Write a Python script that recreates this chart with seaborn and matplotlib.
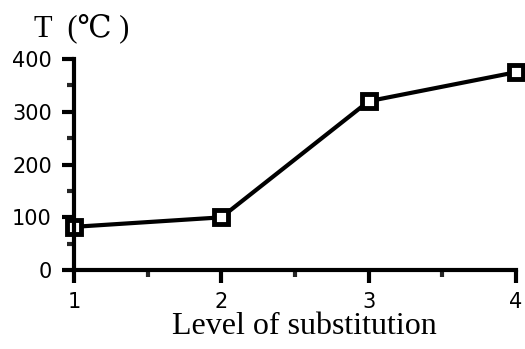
import pandas as pd
import matplotlib.pyplot as plt
import seaborn as sns
from matplotlib.ticker import MultipleLocator

level = [1, 2, 3, 4]
temperature = [82, 100, 320, 375]
y_ticks = [0, 100, 200, 300, 400]

df = pd.DataFrame({"level": level, "T": temperature})

sns.set_style("ticks")
fig = plt.figure(figsize=(5.25, 3.49), dpi=100)
ax = fig.add_axes([0.141, 0.226, 0.842, 0.605])

sns.lineplot(data=df, x="level", y="T", ax=ax, color="black", linewidth=3,
             marker="s", markersize=10, markerfacecolor="white",
             markeredgecolor="black", markeredgewidth=3.5)

ax.set_xlim(1, 4)
ax.set_ylim(0, 400)
ax.set_xticks(level)
ax.set_yticks(y_ticks)
ax.xaxis.set_minor_locator(MultipleLocator(0.5))
ax.yaxis.set_minor_locator(MultipleLocator(50))
ax.tick_params(which="major", length=9, width=3, labelsize=15, pad=7, colors="black")
ax.tick_params(which="minor", length=5, width=3)
for lab in ax.get_xticklabels() + ax.get_yticklabels():
    lab.set_family("DejaVu Sans")

sns.despine(ax=ax)
for s in ["left", "bottom"]:
    ax.spines[s].set_linewidth(3)
    ax.spines[s].set_color("black")
    ax.spines[s].set_capstyle("projecting")
for line in ax.lines:
    line.set_clip_on(False)

ax.set_xlabel("Level of substitution", family="Liberation Serif", fontsize=23,
              labelpad=0, color="black")
ax.xaxis.label.set_x(0.52)
ax.set_ylabel("")
fig.text(0.065, 0.918, "T  (℃ )", family=["Liberation Serif", "DejaVu Serif"],
         fontsize=22, va="center", ha="left", color="black")

plt.savefig("out.png", dpi=100)
